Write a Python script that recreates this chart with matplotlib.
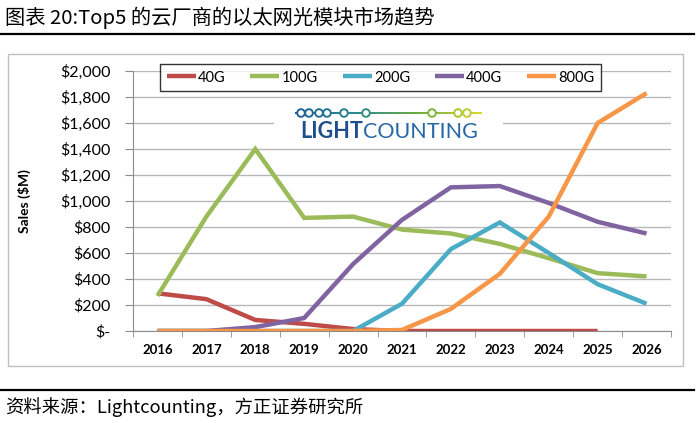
import numpy as np
import matplotlib
matplotlib.use("Agg")
import matplotlib.pyplot as plt
from matplotlib.patches import Rectangle
from matplotlib.lines import Line2D
from matplotlib.collections import LineCollection
from matplotlib.colors import LinearSegmentedColormap

plt.rcParams["font.family"] = ["Lato", "DejaVu Sans"]

years = ["2016", "2017", "2018", "2019", "2020", "2021", "2022", "2023", "2024", "2025", "2026"]
g40 = [290, 245, 85, 55, 15, 0, 0, 0, 0, 0]
g100 = [270, 880, 1400, 870, 880, 780, 750, 670, 560, 445, 420]
g200 = [0, 0, 0, 0, 0, 210, 630, 835, 600, 360, 210]
g400 = [0, 0, 30, 100, 515, 855, 1105, 1115, 985, 840, 750]
g800 = [0, 0, 0, 0, 0, 8, 170, 440, 880, 1600, 1830]

series = [("40G", g40, "#be4b48"), ("100G", g100, "#9bbb59"), ("200G", g200, "#4bacc6"),
          ("400G", g400, "#8064a2"), ("800G", g800, "#f79646")]

ytick_vals = [0, 200, 400, 600, 800, 1000, 1200, 1400, 1600, 1800, 2000]
ytick_labels = ["$-", "$200", "$400", "$600", "$800", "$1,000", "$1,200", "$1,400",
                "$1,600", "$1,800", "$2,000"]

W, H = 700, 423
fig = plt.figure(figsize=(7, 4.23), dpi=100)

def fx(px):
    return px / W

def fy(py):
    return 1 - py / H

# chart frame
fig.add_artist(Rectangle((fx(8), fy(366)), fx(683) - fx(8), fy(54) - fy(366),
                         transform=fig.transFigure, fill=False, edgecolor="#bfbfbf", lw=1))

ax = fig.add_axes([fx(133), fy(331), fx(671) - fx(133), fy(71) - fy(331)])
x = np.arange(len(years))
for name, vals, col in series:
    ax.plot(x[:len(vals)], vals, color=col, lw=3.2, solid_capstyle="butt",
            solid_joinstyle="miter", label=name, zorder=3)

ax.set_xlim(-0.5, len(years) - 0.5)
ax.set_ylim(0, 2000)
ax.set_yticks(ytick_vals, ytick_labels)
ax.set_xticks(x, years)
ax.set_xticks(np.arange(-0.5, len(years), 1), minor=True)
ax.grid(axis="y", color="#b8b8b8", lw=1)
ax.set_axisbelow(True)
for s in ["top", "right"]:
    ax.spines[s].set_visible(False)
for s in ["left", "bottom"]:
    ax.spines[s].set_color("#8c8c8c")
ax.tick_params(axis="y", length=6, color="#8c8c8c", pad=10, labelsize=11.5)
ax.tick_params(axis="x", which="major", length=0, pad=9, labelsize=9.5)
ax.tick_params(axis="x", which="minor", length=4, color="#8c8c8c")
for t in ax.get_xticklabels():
    t.set_fontweight("bold")
ax.set_ylabel("Sales ($M)", fontsize=10, fontweight="bold")
ax.yaxis.set_label_coords(-(133 - 31) / (671 - 133), 0.5)

handles = [Line2D([], [], color=c, lw=3.2, solid_capstyle="butt") for _, _, c in series]
leg = ax.legend(handles, [n for n, _, _ in series], loc="center", ncol=5, mode="expand",
                bbox_to_anchor=(fx(160), fy(92), fx(601) - fx(160), fy(63) - fy(92)),
                bbox_transform=fig.transFigure, frameon=True, fancybox=False,
                edgecolor="black", fontsize=10.5, handlelength=2.0, handletextpad=0.15,
                borderaxespad=0, borderpad=0.45)
leg.get_frame().set_linewidth(1.0)

# LightCounting logo
lax = fig.add_axes([fx(274), fy(142), fx(503) - fx(274), fy(100) - fy(142)])
lax.set_xlim(274, 503)
lax.set_ylim(142, 100)
lax.set_xticks([])
lax.set_yticks([])
for s in lax.spines.values():
    s.set_visible(False)
cmap = LinearSegmentedColormap.from_list("lc", ["#1f5d9c", "#2a8a8a", "#6aab3c", "#d9d62c"])
lx = np.linspace(295, 482, 60)
segs = [[(lx[i], 113), (lx[i + 1], 113)] for i in range(len(lx) - 1)]
lc = LineCollection(segs, colors=cmap(np.linspace(0, 1, len(segs))), lw=1.4)
lax.add_collection(lc)
circ_x = [301, 309, 319, 327, 344, 366, 432, 458, 467]
lax.scatter(circ_x, [113] * len(circ_x), s=30, facecolor="white",
            edgecolor=cmap((np.array(circ_x) - 295) / (482 - 295)), lw=1.4, zorder=3)
t1 = lax.text(300, 138, "LIGHT", fontsize=15.5, fontweight="bold", color="#1f4e8c",
              va="baseline", ha="left")
lax.annotate("COUNTING", xy=(1, 0), xycoords=t1, fontsize=15.5, color="#2767a6",
             va="bottom", ha="left")

# title & footer
fig.text(fx(5), fy(18), "图表 20:Top5 的云厂商的以太网光模块市场趋势", fontsize=14.6,
         family=["Noto Sans CJK SC", "DejaVu Sans"], va="center", ha="left")
fig.add_artist(Line2D([0, fx(694)], [fy(34), fy(34)], color="black", lw=1.6))
fig.add_artist(Line2D([0, fx(694)], [fy(390), fy(390)], color="black", lw=1.6))
fig.text(fx(5), fy(407), "资料来源：Lightcounting，方正证券研究所", fontsize=13.2,
         family=["Noto Sans CJK SC", "DejaVu Sans"], va="center", ha="left")

fig.savefig("out.png", dpi=100)
